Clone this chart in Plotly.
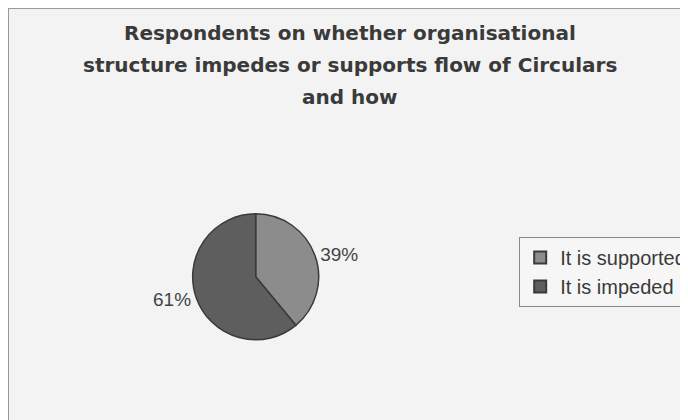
import plotly.graph_objects as go

categories = ["It is supported", "It is impeded"]
values = [39, 61]
colors = ["#8c8c8c", "#5e5e5e"]
title_lines = [
    "Respondents on whether organisational",
    "structure impedes or supports flow of Circulars",
    "and how",
]

W, H = 688, 420
fig = go.Figure()
fig.add_trace(go.Pie(
    labels=categories,
    values=values,
    sort=False,
    direction="clockwise",
    rotation=0,
    marker=dict(colors=colors, line=dict(color="#3a3a3a", width=1.5)),
    textinfo="percent",
    texttemplate="%{percent:.0%}",
    textposition="outside",
    textfont=dict(family="Liberation Sans, Arial", size=19, color="#444444"),
    domain=dict(x=[0.22, 0.50], y=[0.21, 0.51]),
    showlegend=True,
))

title_y = [25, 57, 89]
for t, yy in zip(title_lines, title_y):
    fig.add_annotation(
        text="<b>" + t + "</b>", x=0.497, y=1 - yy / H, xref="paper", yref="paper",
        showarrow=False, xanchor="center", yanchor="middle",
        font=dict(family="DejaVu Sans", size=20, color="#3a3a3a"),
    )

fig.add_shape(type="rect", xref="paper", yref="paper", x0=0.0, y0=0.0, x1=1.2, y1=1.0,
              line=dict(color="#9a9a9a", width=2), fillcolor="rgba(0,0,0,0)")

fig.update_layout(
    width=W, height=H,
    margin=dict(l=0, r=0, t=0, b=0),
    paper_bgcolor="#f3f3f3",
    plot_bgcolor="#f3f3f3",
    legend=dict(
        x=0.743, y=1 - 229 / H, xanchor="left", yanchor="top",
        bgcolor="#f6f6f6", bordercolor="#888888", borderwidth=1,
        font=dict(family="Liberation Sans, Arial", size=20, color="#3a3a3a"),
        itemsizing="constant", itemwidth=30,
    ),
)
fig.write_html("out.html")
